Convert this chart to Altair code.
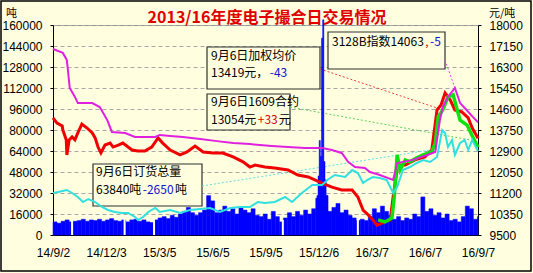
import altair as alt
import pandas as pd

# ---------------- data ----------------
x_tick_days = [0, 92, 184, 276, 368, 460, 552, 644, 736]
x_tick_labels = ["14/9/2", "14/12/3", "15/3/5", "15/6/5", "15/9/5", "15/12/6", "16/3/7", "16/6/7", "16/9/7"]
left_ticks = [0, 16000, 32000, 48000, 64000, 80000, 96000, 112000, 128000, 144000, 160000]
right_ticks = [9500, 10350, 11200, 12050, 12900, 13750, 14600, 15450, 16300, 17150, 18000]

# weekly trading volume (tons), one value per 7-day block starting 14/9/2
weekly_volume = [
    10000, 9000, 10500, 11500, 10000, 10500, 11000, 12000, 10500, 11500,
    11000, 12000, 10500, 11500, 12500, 11000, 10500, 11500, 10000, 11500,
    12000, 10500, 11500, 10000, 9500, 11500, 13000, 14000, 12500, 15000,
    13500, 16000, 18000, 21000, 17000, 15000, 17000, 19000, 30000, 26000,
    17000, 19000, 22000, 18000, 20000, 16000, 21000, 19000, 17000, 20000,
    15000, 14000, 16000, 12000, 18000, 14000, 10000, 13000, 17000, 14000,
    18000, 15000, 19000, 16000, 20000, 28000, 36000, 30000, 18000, 21000,
    24000, 17000, 19000, 15000, 13000, 11000, 12000, 11000, 14000, 20000,
    17000, 22000, 18000, 15000, 12000, 14000, 11000, 13000, 12000, 16000,
    14000, 29000, 18000, 20000, 15000, 17000, 13000, 16000, 11000, 12000,
    10000, 14000, 22000, 20000, 12000, 14000]

# daily volume around the December 2015 spike
spike_start = [457, 459, 461, 463, 465, 467, 469, 471, 473]
spike_end = [459, 461, 463, 465, 467, 469, 471, 473, 476]
spike_volume = [30000, 45000, 72000, 60000, 150000, 164000, 56000, 42000, 30000]

# holiday breaks (day offsets from 14/9/2)
holiday_days = [33, 124, 175, 398, 528]

# total open orders (tons, left axis)
orders_day = [0, 9, 24, 33, 43, 52, 61, 73, 85, 95, 107, 119, 130, 142, 147, 156, 165, 177, 185, 203,
              220, 237, 255, 272, 289, 307, 324, 341, 355, 367, 384, 402, 414, 431, 449, 466, 475, 488, 506, 518,
              528, 537, 544, 554, 566, 578, 589, 596, 606, 618, 630, 641, 653, 665, 674, 679, 684, 691, 696, 705,
              713, 719, 726, 736]
orders_val = [32000, 32760, 34290, 32000, 28950, 25140, 27430, 25140, 21330, 19050, 17520, 16760, 16760, 13710, 11430,
              13710, 17520, 20570, 17520, 19050, 16760, 19050, 19810, 20570, 17520, 20570, 21330, 21330, 25140, 24380,
              25140, 28950, 25140, 32000, 38100, 38100, 41900, 45710, 44190, 49520, 47240, 39620, 41900, 44190, 43430,
              41900, 32000, 36570, 49520, 51810, 54860, 57140, 55620, 59430, 80000, 77710, 67050, 72380, 60950, 70100,
              72380, 64760, 72380, 63840]

# weighted average price (yuan/ton, right axis)
avg_day = [0, 7, 16, 17, 23, 24, 28, 33, 38, 43, 50, 59, 68, 73, 78, 83, 90, 99, 104, 113,
           121, 130, 137, 147, 159, 171, 182, 190, 203, 220, 232, 246, 260, 277, 294, 312, 329, 341, 350, 367,
           384, 407, 424, 442, 466, 483, 500, 518, 528, 537, 546, 554, 561, 575, 584, 589, 597, 610, 627, 644,
           656, 665, 672, 679, 688, 696, 708, 719, 726, 736]
avg_val = [14240, 14030, 13910, 13750, 13350, 12740, 13350, 13470, 13350, 13630, 13990, 13830, 13630, 13430, 13060,
           12820, 13140, 13220, 13060, 13140, 13220, 13060, 12940, 12900, 12900, 13060, 13430, 13220, 12940, 12740,
           12860, 13100, 12860, 12820, 12820, 12660, 12460, 12250, 12330, 12250, 12210, 12130, 11930, 11850, 11600,
           11440, 11320, 11320, 11040, 10510, 10310, 10110, 9900, 10030, 10110, 11040, 12330, 12330, 12540, 12660,
           12940, 14560, 14760, 15250, 14960, 14560, 14480, 14240, 13830, 13419]

# 3128B index (right axis)
idx_day = [0, 17, 24, 29, 38, 43, 68, 81, 94, 102, 125, 142, 177, 185, 203, 225, 255, 284, 312, 341,
           358, 379, 407, 436, 466, 483, 500, 511, 523, 540, 549, 566, 589, 596, 606, 623, 648, 662, 670, 675,
           684, 696, 705, 713, 727, 736]
idx_val = [17030, 16870, 16580, 15450, 15090, 14840, 14840, 14680, 14150, 13670, 13630, 13470, 13470, 13550, 13510,
           13470, 13390, 13300, 13220, 13180, 13140, 13100, 13060, 13020, 13020, 12940, 12820, 12460, 12250, 12210,
           12050, 11930, 11730, 12410, 12460, 12540, 12740, 12860, 14150, 14680, 15090, 15450, 14840, 14640, 14280,
           14063]

# 1609 contract price (right axis)
c1609_day = [563, 575, 587, 591, 596, 601, 610, 618, 630, 641, 656, 662, 667, 675, 684, 693, 700, 705, 717, 727, 736]
c1609_val = [10110, 10030, 10190, 11040, 12740, 12130, 12540, 12460, 12620, 12740, 12860, 13220, 14280, 14560, 15090,
             15170, 14560, 14150, 13950, 13470, 13054]

title_text = "2013/16年度电子撮合日交易情况"

# ---------------- tables ----------------
bars_df = pd.DataFrame({
    "day": [7 * i for i in range(len(weekly_volume))],
    "end": [min(7 * i + 7, 736) for i in range(len(weekly_volume))],
    "vol": weekly_volume,
    "lo": 0,
})
spike_df = pd.DataFrame({"day": spike_start, "end": spike_end, "vol": spike_volume, "lo": 0})
gap_df = pd.DataFrame({"day": holiday_days, "lo": 0,
                       "h": [weekly_volume[d // 7] + 1500 for d in holiday_days]})
orders_df = pd.DataFrame({"day": orders_day, "val": orders_val})
avg_df = pd.DataFrame({"day": avg_day, "val": avg_val})
idx_df = pd.DataFrame({"day": idx_day, "val": idx_val})
c_df = pd.DataFrame({"day": c1609_day, "val": c1609_val})
one = pd.DataFrame({"k": [0]})

# ---------------- style ----------------
BG = "#FFFFE0"
LF = "Liberation Sans"
CJK = "Noto Sans CJK SC"
OX, OY = 53, 25  # plot origin inside the 533x273 page

LS = alt.Scale(domain=[0, 160000], nice=False, zero=False)
RS = alt.Scale(domain=[9500, 18000], nice=False, zero=False)
XS = alt.Scale(domain=[0, 736], nice=False, zero=False)

label_expr = " : ".join(f"datum.value == {d} ? '{l}'" for d, l in zip(x_tick_days, x_tick_labels)) + " : ''"
x_axis = alt.Axis(values=x_tick_days, labelExpr=label_expr, title=None, grid=False, ticks=False,
                  domain=True, domainColor="#000000", labelFont=LF, labelFontSize=12,
                  labelColor="#000000", labelPadding=12, labelOverlap=False, labelFlush=False)
X = alt.X("day:Q", scale=XS, axis=x_axis)

left_axis = alt.Axis(values=left_ticks, format="d", orient="left", title=None, grid=True,
                     gridDash=[4, 3], gridColor="#A8A8A8", tickSize=3, tickColor="#000000",
                     domainColor="#000000", labelFont=LF, labelFontSize=12, labelColor="#000000",
                     labelPadding=8)
right_axis = alt.Axis(values=right_ticks, format="d", orient="right", title=None, grid=False,
                      tickSize=3, tickColor="#000000", domainColor="#000000", labelFont=LF,
                      labelFontSize=12, labelColor="#000000", labelPadding=8)


def text_at(s, ax, ay, color="#000000", size=12, weight="normal", align="left"):
    return alt.Chart(one).mark_text(text=s, align=align, baseline="middle", font=CJK, fontSize=size,
                                    fontWeight=weight, color=color).encode(
        x=alt.value(ax - OX), y=alt.value(ay - OY))


def tw(s):
    w = 0.0
    for c in s:
        if ord(c) > 0x2E80:
            w += 12
        elif c in "-,.":
            w += 4.4
        else:
            w += 6.9
    return w + 0.3


def segments(parts, ax, ay):
    out = []
    x = ax
    for s, col in parts:
        out.append(text_at(s, x, ay, color=col))
        x += tw(s)
    return out


def box(ax1, ay1, ax2, ay2):
    return alt.Chart(one).mark_rect(fill=BG, stroke="#303030", strokeWidth=1.2).encode(
        x=alt.value(ax1 - OX), x2=alt.value(ax2 - OX), y=alt.value(ay1 - OY), y2=alt.value(ay2 - OY))


def leader(ax1, ay1, ax2, ay2, color):
    return alt.Chart(one).mark_rule(color=color, strokeDash=[2, 2], strokeWidth=1).encode(
        x=alt.value(ax1 - OX), x2=alt.value(ax2 - OX), y=alt.value(ay1 - OY), y2=alt.value(ay2 - OY))


BLACK, BLUE, RED = "#000000", "#1010D0", "#E00000"

boxes = [box(207, 47, 320, 89), box(207, 94, 290, 130), box(328, 32, 445, 69), box(93, 164, 202, 206)]
leaders = [
    leader(320, 69, 443, 110, "#F04040"),
    leader(290, 107, 470, 140, "#60D060"),
    leader(202, 186, 430, 150, "#60E0E0"),
    leader(445, 60, 455, 88, "#E040E0"),
]

bars = alt.Chart(bars_df).mark_rect(color="#0000FF", stroke="#0000FF", strokeWidth=0.5).encode(
    x=X, x2="end:Q", y=alt.Y("vol:Q", scale=LS, axis=left_axis), y2="lo:Q")
gaps = alt.Chart(gap_df).mark_rule(color="#FFFFFF", strokeWidth=2).encode(
    x=X, y=alt.Y("lo:Q", scale=LS, axis=None), y2="h:Q")
spike = alt.Chart(spike_df).mark_rect(color="#0000FF", stroke="#0000FF", strokeWidth=0.5).encode(
    x=X, x2="end:Q", y=alt.Y("vol:Q", scale=LS, axis=None), y2="lo:Q")

red = alt.Chart(avg_df).mark_line(color="#F00000", strokeWidth=3).encode(
    x=X, y=alt.Y("val:Q", scale=RS, axis=right_axis))
green = alt.Chart(c_df).mark_line(color="#10E010", strokeWidth=3.5).encode(
    x=X, y=alt.Y("val:Q", scale=RS, axis=None))
cyan = alt.Chart(orders_df).mark_line(color="#30E0E0", strokeWidth=2).encode(
    x=X, y=alt.Y("val:Q", scale=LS, axis=None))
magenta = alt.Chart(idx_df).mark_line(color="#E020E0", strokeWidth=2).encode(
    x=X, y=alt.Y("val:Q", scale=RS, axis=None))

texts = []
texts += [text_at("9月6日加权均价", 211, 56)]
texts += segments([("13419元，", BLACK), ("-43", BLUE)], 211, 73)
texts += [text_at("9月6日1609合约", 211, 102)]
texts += segments([("13054元", BLACK), ("+33", RED), ("元", BLACK)], 211, 120)
texts += segments([("3128B指数14063", BLACK), (",", RED), ("-5", BLUE)], 332, 42)
texts += [text_at("9月6日订货总量", 96, 172)]
texts += segments([("63840吨", BLACK), ("-2650", BLUE), ("吨", BLACK)], 96, 190)
texts += [text_at(title_text, 267, 18, color="#E00000", size=16, weight="bold", align="center")]
texts += [text_at("吨", 6, 14, size=11), text_at("元/吨", 489, 14, size=11)]

border = alt.Chart(one).mark_rect(fill=BG, fillOpacity=0, stroke="#000000", strokeWidth=1.5).encode(
    x=alt.value(1 - OX), x2=alt.value(531 - OX), y=alt.value(1 - OY), y2=alt.value(271 - OY))

chart = alt.layer(
    *boxes, *leaders, bars, gaps, spike, red, green, cyan, magenta, *texts, border
).resolve_scale(y="independent").properties(
    width=425, height=210,
    padding={"left": OX, "top": OY, "right": 533 - OX - 425, "bottom": 273 - OY - 210},
    autosize=alt.AutoSizeParams(type="none"),
).configure(background=BG).configure_view(stroke="#909090", strokeWidth=1)

chart.save("out.html", embed_options={"renderer": "svg", "actions": False})
